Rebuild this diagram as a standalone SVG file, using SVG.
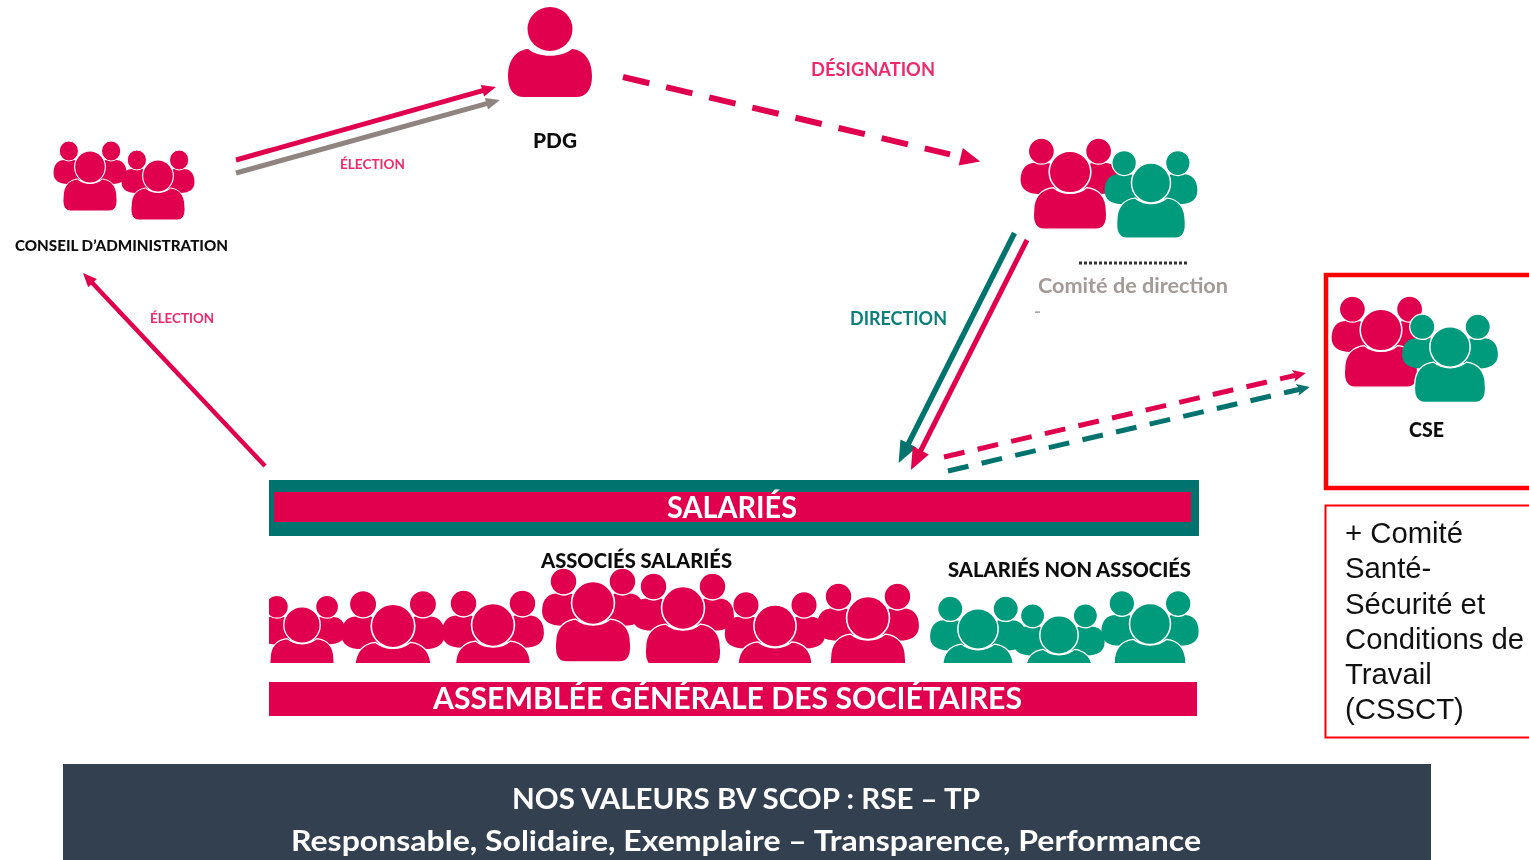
<svg xmlns="http://www.w3.org/2000/svg" xmlns:xlink="http://www.w3.org/1999/xlink" width="1529" height="860" viewBox="0 0 1529 860">
<style>
text{font-family:Lato,"Liberation Sans",sans-serif}
.p{fill:#e0004d}.g{fill:#009a7d}
.b{font-weight:900;fill:#111}
.lp{font-weight:700;fill:#ee2a6c}
.w{font-weight:700;fill:#fff}
.c{fill:none;stroke-linecap:butt}
.note{font-family:"Liberation Sans",Arial,sans-serif;font-size:29.3px;fill:#111}
</style>
<defs>
<filter id="soft" filterUnits="userSpaceOnUse" x="0" y="0" width="1529" height="860"><feGaussianBlur stdDeviation="0.65"/></filter>
<clipPath id="row"><rect x="269" y="560" width="930" height="103"/></clipPath>
<g id="team">
<path d="M-38,6C-38,-3 -33,-7 -27,-7L-18,-7C-10,-7 -8,0 -8,6C-8,13 -14,17 -23,17C-33,17 -38,13 -38,6Z"/>
<path d="M38,6C38,-3 33,-7 27,-7L18,-7C10,-7 8,0 8,6C8,13 14,17 23,17C33,17 38,13 38,6Z"/>
<circle cx="-22" cy="-16" r="10" stroke="#fff" stroke-width="1"/>
<circle cx="22" cy="-16" r="10" stroke="#fff" stroke-width="1"/>
<path d="M-28,30C-28,19 -22,13 -13,12C-6,18 6,18 13,12C22,13 28,19 28,30C29,39 26,44 20,44L-20,44C-26,44 -29,39 -28,30Z" stroke="#fff" stroke-width="1"/>
<circle r="16" stroke="#fff" stroke-width="1.2"/>
</g>
<marker id="aP" markerUnits="userSpaceOnUse" markerWidth="14" markerHeight="12" refX="2" refY="6" orient="auto" overflow="visible"><path d="M0,0L14,6L0,12Z" fill="#e0004d"/></marker>
<marker id="aGy" markerUnits="userSpaceOnUse" markerWidth="14" markerHeight="12" refX="2" refY="6" orient="auto" overflow="visible"><path d="M0,0L14,6L0,12Z" fill="#8f8480"/></marker>
<marker id="aD" markerUnits="userSpaceOnUse" markerWidth="20" markerHeight="18" refX="-11" refY="9" orient="auto" overflow="visible"><path d="M0,0L20,9L0,18Z" fill="#e0004d"/></marker>
<marker id="aBigT" markerUnits="userSpaceOnUse" markerWidth="22" markerHeight="18" refX="4" refY="9" orient="auto" overflow="visible"><path d="M0,0L22,9L0,18Z" fill="#00736e"/></marker>
<marker id="aBigP" markerUnits="userSpaceOnUse" markerWidth="22" markerHeight="18" refX="4" refY="9" orient="auto" overflow="visible"><path d="M0,0L22,9L0,18Z" fill="#e0004d"/></marker>
<marker id="aSP" markerUnits="userSpaceOnUse" markerWidth="13" markerHeight="12" refX="3" refY="6" orient="auto" overflow="visible"><path d="M0,0L13,6L0,12L3,6Z" fill="#e0004d"/></marker>
<marker id="aST" markerUnits="userSpaceOnUse" markerWidth="13" markerHeight="12" refX="3" refY="6" orient="auto" overflow="visible"><path d="M0,0L13,6L0,12L3,6Z" fill="#00736e"/></marker>
</defs>
<rect width="1529" height="860" fill="#fff"/>
<g filter="url(#soft)">
<g id="connectors" class="c">
<line x1="236" y1="160" x2="484.4" y2="90.2" stroke="#e0004d" stroke-width="5" marker-end="url(#aP)"/>
<line x1="236" y1="173" x2="488.4" y2="103.2" stroke="#8f8480" stroke-width="5" marker-end="url(#aGy)"/>
<line x1="265" y1="466" x2="91.2" y2="281.7" stroke="#e0004d" stroke-width="4.5" marker-end="url(#aP)"/>
<line x1="623" y1="77" x2="950" y2="154.3" stroke="#e0004d" stroke-width="6" stroke-dasharray="27 17.3" marker-end="url(#aD)"/>
<line x1="1014.5" y1="233" x2="906.7" y2="447" stroke="#00736e" stroke-width="5.5" marker-end="url(#aBigT)"/>
<line x1="1027" y1="240" x2="919" y2="454" stroke="#e0004d" stroke-width="5" marker-end="url(#aBigP)"/>
<line x1="944" y1="457" x2="1296" y2="375.2" stroke="#e0004d" stroke-width="5" stroke-dasharray="21 13.5" marker-end="url(#aSP)"/>
<line x1="948" y1="471" x2="1300" y2="389.2" stroke="#00736e" stroke-width="5" stroke-dasharray="21 13.5" marker-end="url(#aST)"/>
</g>
<g id="node-conseil">
<use xlink:href="#team" href="#team" class="p" transform="translate(158,176) scale(0.96,1)"/>
<use xlink:href="#team" href="#team" class="p" transform="translate(90,167) scale(0.96,1)"/>
<text class="b" x="15" y="251" font-size="14.5" textLength="213" lengthAdjust="spacingAndGlyphs">CONSEIL D’ADMINISTRATION</text>
</g>
<g id="node-pdg">
<ellipse class="p" cx="550" cy="29" rx="22.5" ry="22"/>
<path class="p" d="M508,76C508,60 516,50 528,49C538,58 562,58 572,49C584,50 592,60 592,76C592,90 586,97 576,97L524,97C514,97 508,90 508,76Z"/>
<text class="b" x="533" y="148" font-size="21" textLength="44" lengthAdjust="spacingAndGlyphs">PDG</text>
</g>
<g id="node-comite">
<use xlink:href="#team" href="#team" class="p" transform="translate(1070,172) scale(1.3)"/>
<use xlink:href="#team" href="#team" class="g" transform="translate(1151,183) scale(1.22,1.25)"/>
<line x1="1079" y1="263" x2="1188" y2="263" stroke="#333" stroke-width="3" stroke-dasharray="3 2"/>
<text x="1038" y="293" font-size="21" font-weight="700" fill="#a39b97" textLength="190" lengthAdjust="spacingAndGlyphs">Comité de direction</text>
<rect x="1035" y="311.5" width="5" height="1.2" fill="#888"/>
</g>
<g id="node-cse">
<use xlink:href="#team" href="#team" class="p" transform="translate(1381,330) scale(1.3)"/>
<use xlink:href="#team" href="#team" class="g" transform="translate(1450,347) scale(1.26,1.26)"/>
<text class="b" x="1409" y="437" font-size="20" textLength="35" lengthAdjust="spacingAndGlyphs">CSE</text>
</g>
<g id="labels">
<text class="lp" x="811" y="76" font-size="18" textLength="124" lengthAdjust="spacingAndGlyphs">DÉSIGNATION</text>
<text class="lp" x="340" y="169" font-size="14" textLength="65" lengthAdjust="spacingAndGlyphs">ÉLECTION</text>
<text class="lp" x="150" y="323" font-size="14" textLength="64" lengthAdjust="spacingAndGlyphs">ÉLECTION</text>
<text x="850" y="325" font-size="19" font-weight="700" fill="#0a7f79" textLength="97" lengthAdjust="spacingAndGlyphs">DIRECTION</text>
</g>
<g id="node-salaries">
<rect x="269" y="480" width="930" height="56" fill="#00736e"/>
<rect x="274" y="492" width="917" height="30" fill="#e0004d"/>
<text class="w" x="667" y="518" font-size="30" textLength="130" lengthAdjust="spacingAndGlyphs">SALARIÉS</text>
</g>
<g id="node-associes" clip-path="url(#row)">
<use xlink:href="#team" href="#team" class="p" transform="translate(302,625) scale(1.14)"/>
<use xlink:href="#team" href="#team" class="p" transform="translate(393,626) scale(1.36)"/>
<use xlink:href="#team" href="#team" class="p" transform="translate(493,625) scale(1.34)"/>
<use xlink:href="#team" href="#team" class="p" transform="translate(775,626) scale(1.32)"/>
<use xlink:href="#team" href="#team" class="p" transform="translate(868,618) scale(1.34)"/>
<use xlink:href="#team" href="#team" class="p" transform="translate(683,608) scale(1.34)"/>
<use xlink:href="#team" href="#team" class="p" transform="translate(593,603) scale(1.34)"/>
</g>
<g id="node-non-associes" clip-path="url(#row)">
<use xlink:href="#team" href="#team" class="g" transform="translate(978,629) scale(1.26)"/>
<use xlink:href="#team" href="#team" class="g" transform="translate(1150,624) scale(1.28)"/>
<use xlink:href="#team" href="#team" class="g" transform="translate(1059,635) scale(1.2)"/>
</g>
<text class="b" x="541" y="568" font-size="20" textLength="191" lengthAdjust="spacingAndGlyphs">ASSOCIÉS SALARIÉS</text>
<text class="b" x="948" y="577" font-size="20" textLength="243" lengthAdjust="spacingAndGlyphs">SALARIÉS NON ASSOCIÉS</text>
<g id="node-assemblee">
<rect x="269" y="682" width="928" height="34" fill="#e0004d"/>
<text class="w" x="433" y="709" font-size="30" textLength="589" lengthAdjust="spacingAndGlyphs">ASSEMBLÉE GÉNÉRALE DES SOCIÉTAIRES</text>
</g>
<g id="node-valeurs">
<rect x="63" y="764" width="1368" height="110" fill="#333f50"/>
<text class="w" x="512" y="809" font-size="29" textLength="468" lengthAdjust="spacingAndGlyphs">NOS VALEURS BV SCOP : RSE – TP</text>
<text class="w" x="291" y="851" font-size="29" textLength="910" lengthAdjust="spacingAndGlyphs">Responsable, Solidaire, Exemplaire – Transparence, Performance</text>
</g>
</g>
<g id="node-frame-cse">
<rect x="1326" y="275" width="210" height="213" fill="none" stroke="#f00" stroke-width="4.5"/>
</g>
<g id="node-cssct">
<rect x="1325.5" y="505.5" width="210" height="232" fill="none" stroke="#f00" stroke-width="2"/>
<text class="note" x="1345" y="543">+ Comité</text>
<text class="note" x="1345" y="578">Santé-</text>
<text class="note" x="1345" y="614">Sécurité et</text>
<text class="note" x="1345" y="649">Conditions de</text>
<text class="note" x="1345" y="684">Travail</text>
<text class="note" x="1345" y="719">(CSSCT)</text>
</g>
</svg>
